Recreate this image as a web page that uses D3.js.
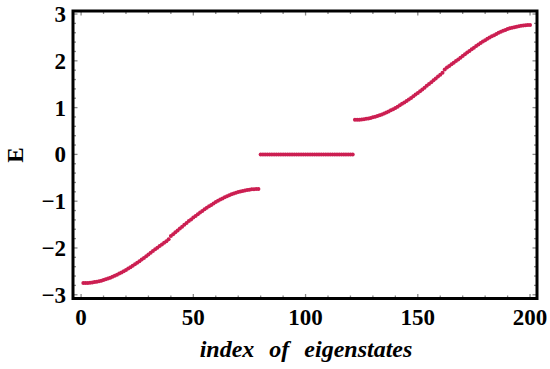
<!DOCTYPE html>
<html>
<head>
<meta charset="utf-8">
<script src="https://cdn.jsdelivr.net/npm/d3@7"></script>
<style>
  html, body { margin: 0; padding: 0; background: #fff; }
  svg { display: block; }
</style>
</head>
<body>
<svg id="chart" width="550" height="369"></svg>
<script>
// ---- data ----
const lowerBand = [-2.750,-2.749,-2.747,-2.743,-2.737,-2.730,-2.721,-2.710,-2.698,-2.685,
  -2.670,-2.653,-2.635,-2.615,-2.594,-2.572,-2.548,-2.523,-2.497,-2.470,
  -2.441,-2.411,-2.380,-2.348,-2.315,-2.282,-2.248,-2.212,-2.176,-2.139,
  -2.101,-2.065,-2.030,-1.995,-1.960,-1.925,-1.890,-1.855,-1.815,-1.745,
  -1.705,-1.664,-1.624,-1.584,-1.544,-1.504,-1.465,-1.426,-1.389,-1.351,
  -1.314,-1.278,-1.242,-1.208,-1.175,-1.142,-1.110,-1.080,-1.049,-1.020,
  -0.993,-0.966,-0.941,-0.917,-0.895,-0.874,-0.853,-0.835,-0.820,-0.805,
  -0.792,-0.780,-0.769,-0.760,-0.753,-0.747,-0.743,-0.741,-0.740];
const zeroModes = [0,0,0,0,0,0,0,0,0,0,0,0,0,0,0,0,0,0,0,0,0,
  0,0,0,0,0,0,0,0,0,0,0,0,0,0,0,0,0,0,0,0,0];
const upperBand = [0.740,0.741,0.743,0.747,0.753,0.760,0.769,0.780,0.792,0.805,
  0.820,0.835,0.853,0.874,0.895,0.917,0.941,0.966,0.993,1.020,
  1.049,1.080,1.110,1.142,1.175,1.208,1.242,1.278,1.314,1.351,
  1.389,1.426,1.465,1.504,1.544,1.584,1.624,1.664,1.705,1.745,
  1.815,1.855,1.890,1.925,1.960,1.995,2.030,2.065,2.101,2.139,
  2.176,2.212,2.248,2.282,2.315,2.348,2.380,2.411,2.441,2.470,
  2.497,2.523,2.548,2.574,2.598,2.620,2.641,2.660,2.678,2.694,
  2.708,2.720,2.731,2.741,2.749,2.756,2.761,2.764,2.766];
const xTickValues = [0, 50, 100, 150, 200];
const yTickValues = [-3, -2, -1, 0, 1, 2, 3];
const xTitle = "index of eigenstates";
const yTitle = "E";

// ---- build points ----
const energies = lowerBand.concat(zeroModes, upperBand);
const points = energies.map((e, i) => ({ index: i + 1, E: e }));

// ---- layout ----
const svg = d3.select("#chart");
const frame = { left: 73, right: 537, top: 11, bottom: 298.5 };
const x = d3.scaleLinear().domain([-3.6, 203.1]).range([frame.left, frame.right]);
const y = d3.scaleLinear().domain([-3.08, 3.065]).range([frame.bottom, frame.top]);

const tickColor = "#8a8a8a";
const fontFam = "'Liberation Serif', 'DejaVu Serif', serif";

// minor / major ticks (inside frame, all four sides)
const xMinor = d3.range(0, 201, 10).filter(v => !xTickValues.includes(v));
const yMinor = d3.range(-30, 31, 2).map(v => v / 10).filter(v => !yTickValues.includes(v));

const gTicks = svg.append("g").attr("stroke", tickColor).attr("stroke-width", 1.3);
function xt(vals, len) {
  vals.forEach(v => {
    gTicks.append("line").attr("x1", x(v)).attr("x2", x(v))
      .attr("y1", frame.bottom).attr("y2", frame.bottom - len);
    gTicks.append("line").attr("x1", x(v)).attr("x2", x(v))
      .attr("y1", frame.top).attr("y2", frame.top + len);
  });
}
function yt(vals, len) {
  vals.forEach(v => {
    gTicks.append("line").attr("y1", y(v)).attr("y2", y(v))
      .attr("x1", frame.left).attr("x2", frame.left + len);
    gTicks.append("line").attr("y1", y(v)).attr("y2", y(v))
      .attr("x1", frame.right).attr("x2", frame.right - len);
  });
}
xt(xTickValues, 4.5); xt(xMinor, 3);
yt(yTickValues, 4.5); yt(yMinor, 3);

// points
svg.append("g").selectAll("circle").data(points).join("circle")
  .attr("cx", d => x(d.index))
  .attr("cy", d => y(d.E))
  .attr("r", 2)
  .attr("fill", "#cc1f52");

// frame
svg.append("rect")
  .attr("x", frame.left).attr("y", frame.top)
  .attr("width", frame.right - frame.left).attr("height", frame.bottom - frame.top)
  .attr("fill", "none").attr("stroke", "#000").attr("stroke-width", 3);

// tick labels
const fmt = v => (v < 0 ? "\u2212" + Math.abs(v) : String(v));
svg.append("g").selectAll("text").data(xTickValues).join("text")
  .attr("x", d => x(d)).attr("y", 325)
  .attr("text-anchor", "middle")
  .attr("font-family", fontFam).attr("font-weight", "bold").attr("font-size", 23)
  .text(d => fmt(d));
svg.append("g").selectAll("text").data(yTickValues).join("text")
  .attr("x", 66).attr("y", d => y(d) + 8)
  .attr("text-anchor", "end")
  .attr("font-family", fontFam).attr("font-weight", "bold").attr("font-size", 23)
  .text(d => fmt(d));

// axis titles
svg.append("text")
  .attr("x", 306).attr("y", 357)
  .attr("text-anchor", "middle")
  .attr("font-family", fontFam).attr("font-weight", "bold").attr("font-style", "italic")
  .attr("font-size", 24).attr("word-spacing", 9)
  .text(xTitle);
svg.append("text")
  .attr("transform", "translate(23,155) rotate(-90)")
  .attr("text-anchor", "middle")
  .attr("font-family", fontFam).attr("font-weight", "bold")
  .attr("font-size", 23)
  .text(yTitle);
</script>
</body>
</html>
